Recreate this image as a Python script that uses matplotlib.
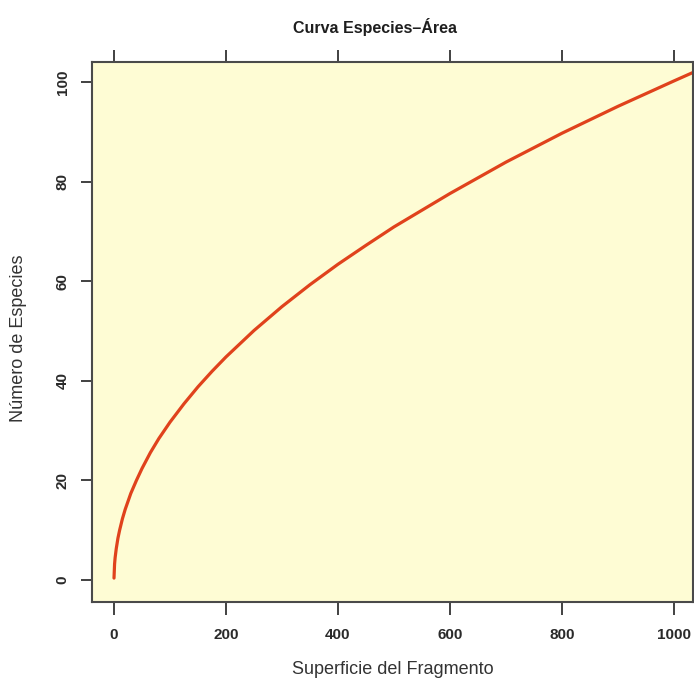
import matplotlib
matplotlib.use("Agg")
import matplotlib.pyplot as plt

# superficie (area) and species count
area = [0, 1, 2, 4, 7, 10, 15, 20, 30, 40, 50, 65, 80, 100, 125, 150, 175,
        200, 250, 300, 350, 400, 450, 500, 600, 700, 800, 900, 1000, 1040]
species = [0.4, 3.2, 4.5, 6.3, 8.4, 10.0, 12.3, 14.2, 17.4, 20.0, 22.4, 25.6,
           28.4, 31.7, 35.4, 38.8, 41.9, 44.8, 50.1, 54.9, 59.3, 63.4, 67.2,
           70.9, 77.6, 83.9, 89.7, 95.1, 100.2, 102.2]
xticks = [0, 200, 400, 600, 800, 1000]
yticks = [0, 20, 40, 60, 80, 100]

plt.rcParams["font.family"] = ["Liberation Sans", "DejaVu Sans"]

W, H = 694, 681
fig = plt.figure(figsize=(W / 100, H / 100), dpi=100)
ax = fig.add_axes([92 / W, 1 - 602 / H, (693 - 92) / W, (602 - 62) / H])
ax.set_facecolor("#fefcd4")

ax.plot(area, species, color="#e0421c", lw=2.3, solid_capstyle="round")

ax.set_xlim(-39.3, 1034)
ax.set_ylim(-4.4, 104.0)
ax.set_xticks(xticks)
ax.set_yticks(yticks)
ax.set_xticklabels([str(t) for t in xticks], fontsize=11, fontweight="bold", color="#2a2a2a")
ax.set_yticklabels([str(t) for t in yticks], fontsize=11, fontweight="bold",
                   color="#2a2a2a", rotation=90, va="center")
ax.tick_params(axis="x", which="both", top=True, bottom=True, direction="out",
               length=9, width=1.3, color="#333333", pad=10)
ax.tick_params(axis="y", direction="out", length=8, width=1.3, color="#333333", pad=8)
for sp in ax.spines.values():
    sp.set_color("#4a4a4a")
    sp.set_linewidth(1.5)

fig.text(375 / W, 1 - 27 / H, "Curva Especies–Área", ha="center", va="center",
         fontsize=11.5, fontweight="bold", color="#1e1e1e")
fig.text(393 / W, 1 - 670 / H, "Superficie del Fragmento", ha="center", va="center",
         fontsize=13, color="#333333")
fig.text(19 / W, 1 - 338 / H, "Número de Especies", ha="center", va="center",
         rotation=90, fontsize=13, color="#333333")

fig.savefig("out.png", dpi=100, facecolor="white")
